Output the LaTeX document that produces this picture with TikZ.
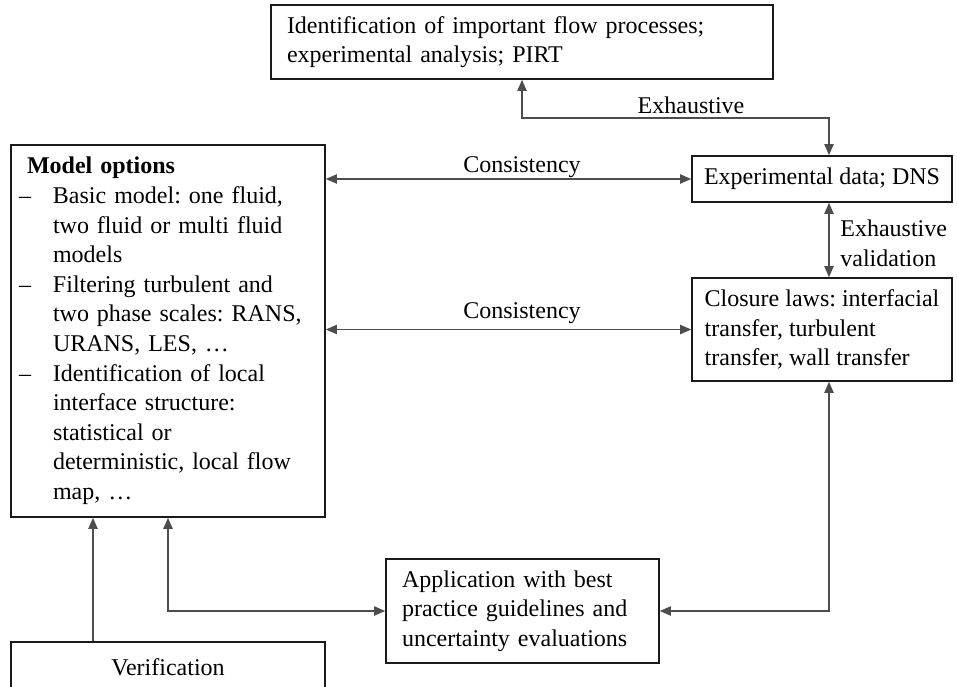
\documentclass[tikz,border=0pt]{standalone}
\usepackage{fontspec}
\setmainfont{Liberation Serif}
\usepackage{tikz}
\usetikzlibrary{arrows.meta, positioning, calc}
\definecolor{boxcol}{HTML}{1A1A1A}
\definecolor{linecol}{HTML}{4D4D4D}

\newcommand{\itm}{\makebox[17pt][l]{--}}
\newcommand{\cnt}{\hspace*{17pt}}
\frenchspacing

\begin{document}
\begin{tikzpicture}[
  x=0.5pt, y=-0.5pt,
  font=\fontsize{12pt}{14.8pt}\selectfont,
  >={Triangle[length=5.5pt, width=4.6pt]},
  box/.style={draw=boxcol, line width=0.8pt, rectangle, inner ysep=0pt},
  lbl/.style={inner sep=0pt},
  arr/.style={<->, draw=linecol, line width=0.65pt},
  uparr/.style={->, draw=linecol, line width=0.65pt}
]
\clip (0,0) rectangle (957,686);

%% ── Top : flow processes ──────────────────────────────────────────────────
\node[box, minimum width=251pt, minimum height=37pt, text width=235pt,
      inner xsep=8pt, align=left] (pirt) at (522, 42)
      {Identification of important flow processes;\\experimental analysis; PIRT};

%% ── Right column : data and closure laws ──────────────────────────────────
\node[box, minimum width=130pt, minimum height=23pt] (expdata) at (822, 179)
      {Experimental data; DNS};
\node[box, minimum width=130pt, minimum height=51.5pt,
      inner xsep=2pt, align=left] (closure) at (822, 329.5)
      {Closure laws: interfacial\\transfer, turbulent\\transfer, wall transfer};

%% ── Left column : model options ───────────────────────────────────────────
\node[box, minimum width=157pt, minimum height=186pt, text width=149pt,
      inner xsep=4pt, align=left] (model) at (168, 331)
      {\hspace*{4pt}\textbf{Model options}\\
       \itm Basic model: one fluid,\\
       \cnt two fluid or multi fluid\\
       \cnt models\\
       \itm Filtering turbulent and\\
       \cnt two phase scales: RANS,\\
       \cnt URANS, LES, \dots\\
       \itm Identification of local\\
       \cnt interface structure:\\
       \cnt statistical or\\
       \cnt deterministic, local flow\\
       \cnt map, \dots};

%% ── Bottom : application and verification ─────────────────────────────────
\node[box, minimum width=136.5pt, minimum height=52pt, text width=120.5pt,
      inner xsep=8pt, align=left] (appl) at (522.5, 611)
      {Application with best\\practice guidelines and\\uncertainty evaluations};
\node[box, minimum width=157pt, minimum height=25pt] (verif) at (168, 667)
      {Verification};

%% ── Connectors ────────────────────────────────────────────────────────────
\coordinate (exh)   at (829, 118);
\coordinate (vleft) at (93, 600);
\coordinate (mleft) at (168, 611);

\draw[arr] (pirt.south) |- (exh) -- (exh |- expdata.north);
\node[lbl] (exhlbl) at (691, 105) {Exhaustive};

\draw[arr] (exh |- expdata.south) -- (exh |- closure.north);
\node[lbl, anchor=west, align=left] (vallbl) at (840, 243)
      {Exhaustive\\validation};

\draw[arr] (model.east |- expdata.west) -- (expdata.west);
\node[lbl] (cons1) at (522, 167) {Consistency};

\draw[arr] (model.east |- closure.west) -- (closure.west);
\node[lbl] (cons2) at (522, 313) {Consistency};

\draw[uparr] (verif.north -| vleft) -- (model.south -| vleft);
\draw[arr] (model.south -| mleft) |- (appl.west);
\draw[arr] (closure.south -| exh) |- (appl.east);

\end{tikzpicture}
\end{document}
